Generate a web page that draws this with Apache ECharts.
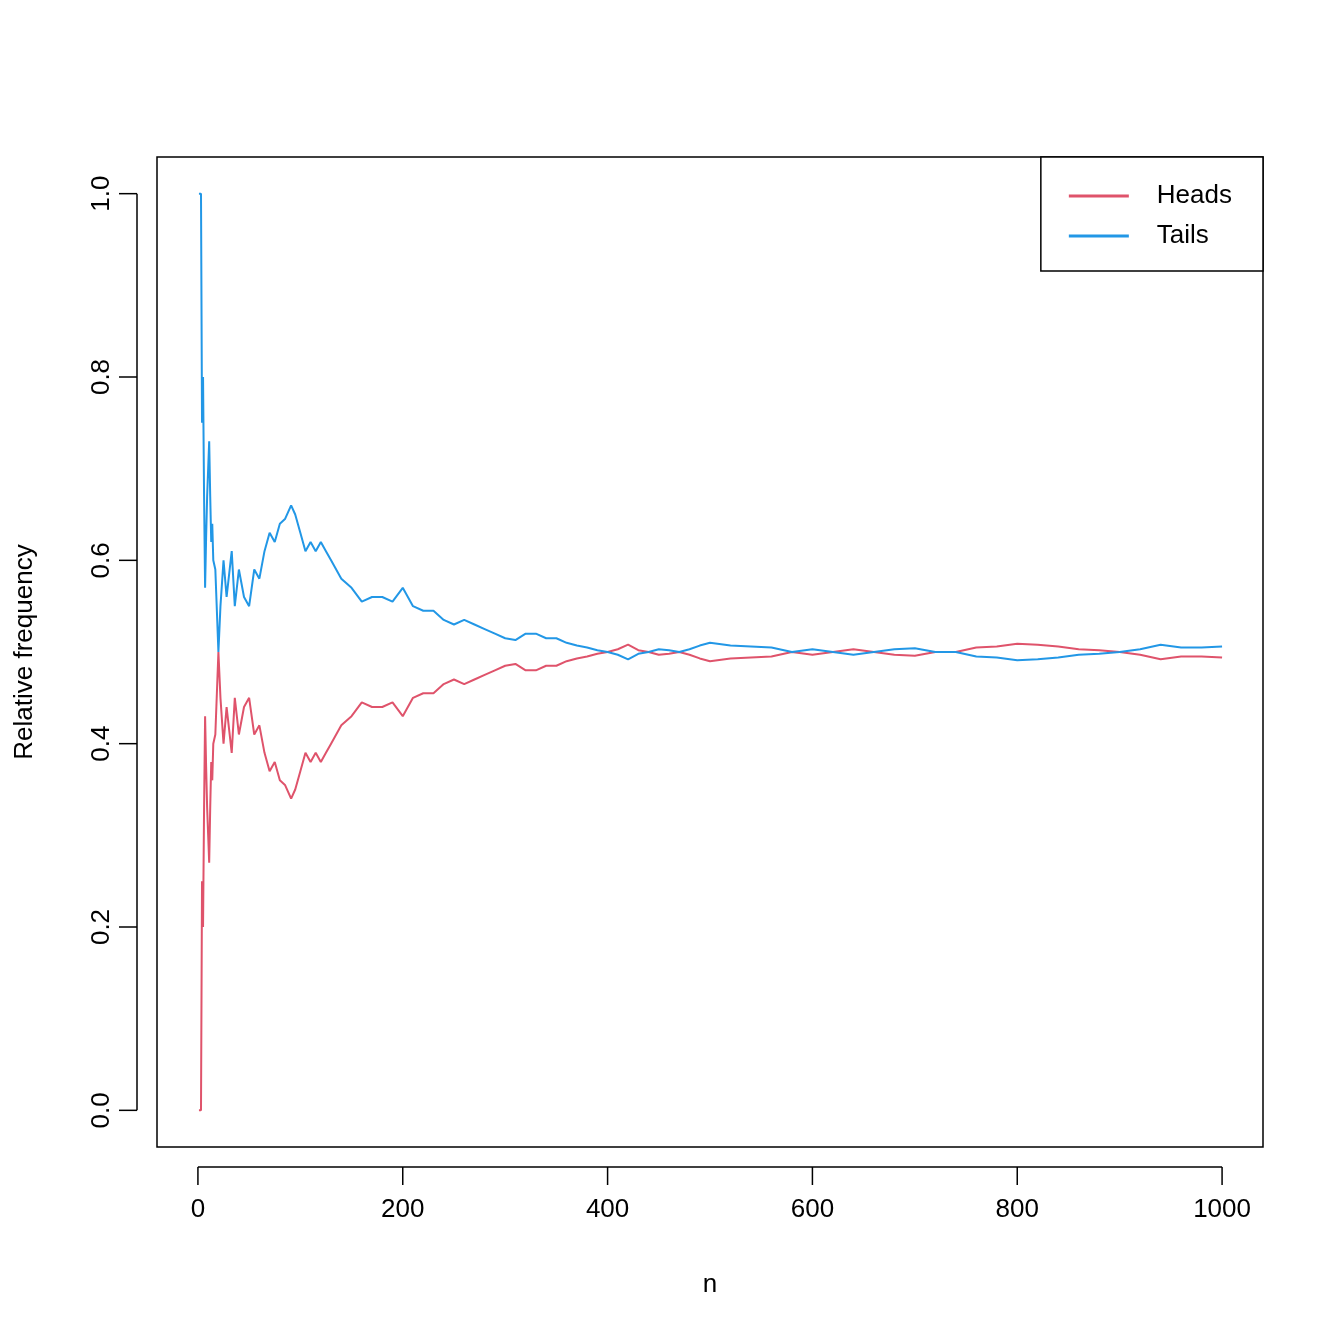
<!DOCTYPE html>
<html><head><meta charset="utf-8">
<script src="https://cdn.jsdelivr.net/npm/echarts@6/dist/echarts.min.js"></script>
<style>body{margin:0;background:#fff}#c{width:1344px;height:1344px}</style>
</head><body><div id="c"></div>
<script>
// n values and relative frequency of heads
var nVals = [1,2,3,4,5,6,7,8,9,10,11,12,13,14,15,17,19,20,22,25,28,30,33,36,40,45,50,55,60,65,70,75,80,85,91,95,100,105,110,115,120,125,130,140,150,160,170,180,190,200,210,220,230,240,250,260,270,280,290,300,310,320,330,340,350,360,370,380,390,400,410,420,430,440,450,460,470,480,490,500,520,540,560,580,600,620,640,660,680,700,720,740,760,780,800,820,840,860,880,900,920,940,960,980,1000]
var heads = [0,0,0,0.25,0.2,0.33,0.43,0.375,0.33,0.3,0.27,0.33,0.38,0.36,0.4,0.41,0.47,0.5,0.45,0.4,0.44,0.42,0.39,0.45,0.41,0.44,0.45,0.41,0.42,0.39,0.37,0.38,0.36,0.355,0.34,0.35,0.37,0.39,0.38,0.39,0.38,0.39,0.4,0.42,0.43,0.445,0.44,0.44,0.445,0.43,0.45,0.455,0.455,0.465,0.47,0.465,0.47,0.475,0.48,0.485,0.487,0.48,0.48,0.485,0.485,0.49,0.493,0.495,0.498,0.5,0.503,0.508,0.502,0.5,0.497,0.498,0.5,0.497,0.493,0.49,0.493,0.494,0.495,0.5,0.497,0.5,0.503,0.5,0.497,0.496,0.5,0.5,0.505,0.506,0.509,0.508,0.506,0.503,0.502,0.5,0.497,0.492,0.495,0.495,0.494]
var tails = heads.map(function(v){return 1-v})
var xTicks = [0,200,400,600,800,1000]
var yTicks = [0,0.2,0.4,0.6,0.8,1]

var font = 'Liberation Sans, Arial, sans-serif'
function pairs(ys){ return nVals.map(function(n,i){return [n,ys[i]]}) }

var chart = echarts.init(document.getElementById('c'))
chart.setOption({
	animation:false,
	backgroundColor:'#fff',
	grid:{left:157,right:81,top:157,bottom:197,show:true,borderColor:'#000',borderWidth:1.5,backgroundColor:'transparent'},
	legend:{
		orient:'vertical',right:81,top:157,
		borderColor:'#000',borderWidth:1.5,borderRadius:0,
		padding:[26,31,22,28],itemGap:14,itemWidth:60,itemHeight:3,icon:'rect',
		textStyle:{fontSize:26,fontFamily:font,color:'#000',padding:[0,0,0,23]},
		backgroundColor:'#fff',
		data:['Heads','Tails']
	},
	xAxis:{
		type:'value',min:-39.96,max:1039.96,offset:20,
		splitLine:{show:false},axisLine:{show:false},axisTick:{show:false},
		axisLabel:{customValues:xTicks,fontSize:26,fontFamily:font,color:'#000',margin:30,
			formatter:function(v){return String(v)}}
	},
	yAxis:{
		type:'value',min:-0.04,max:1.04,offset:20,
		splitLine:{show:false},axisLine:{show:false},axisTick:{show:false},
		axisLabel:{customValues:yTicks,rotate:90,fontSize:26,fontFamily:font,color:'#000',margin:22,
			formatter:function(v){return v.toFixed(1)}}
	},
	series:[
		{name:'Heads',type:'line',data:pairs(heads),showSymbol:false,lineStyle:{color:'#DF536B',width:2},itemStyle:{color:'#DF536B'}},
		{name:'Tails',type:'line',data:pairs(tails),showSymbol:false,lineStyle:{color:'#2297E6',width:2},itemStyle:{color:'#2297E6'}}
	]
})

// R-style axis lines and ticks, placed through the chart's own scales
var ax = 1147+20, ay = 157-20, tl = 18
var st = {stroke:'#000',lineWidth:1.5}
var p0 = chart.convertToPixel({gridIndex:0},[0,0])
var p1 = chart.convertToPixel({gridIndex:0},[1000,1])
var g = [
	{type:'line',shape:{x1:p0[0],y1:ax,x2:p1[0],y2:ax},style:st},
	{type:'line',shape:{x1:ay,y1:p0[1],x2:ay,y2:p1[1]},style:st},
	{type:'text',x:710,y:1285,style:{text:'n',font:'26px '+font,fill:'#000',textAlign:'center',textVerticalAlign:'middle'}},
	{type:'text',x:25,y:652,rotation:Math.PI/2,style:{text:'Relative frequency',font:'26px '+font,fill:'#000',textAlign:'center',textVerticalAlign:'middle'}}
]
xTicks.forEach(function(t){
	var px = chart.convertToPixel({gridIndex:0},[t,0])[0]
	g.push({type:'line',shape:{x1:px,y1:ax,x2:px,y2:ax+tl},style:st})
})
yTicks.forEach(function(t){
	var py = chart.convertToPixel({gridIndex:0},[0,t])[1]
	g.push({type:'line',shape:{x1:ay,y1:py,x2:ay-tl,y2:py},style:st})
})
chart.setOption({graphic:g})
</script>
</body></html>
